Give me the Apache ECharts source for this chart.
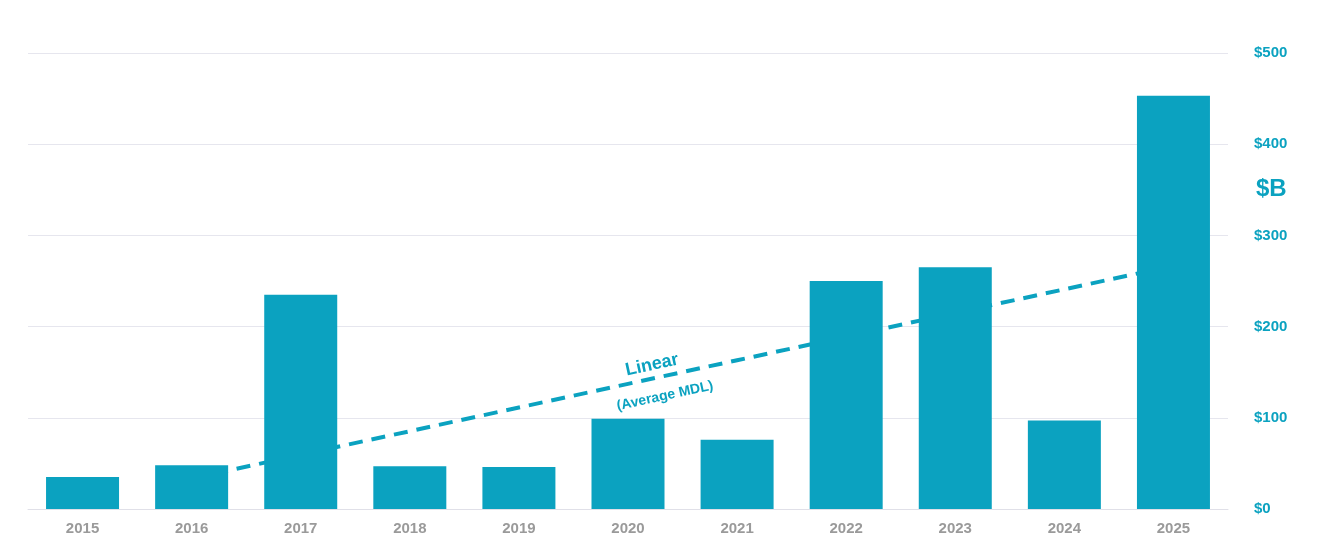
<!DOCTYPE html><html><head><meta charset="utf-8">
<script src="https://cdn.jsdelivr.net/npm/echarts@6/dist/echarts.min.js"></script>
<style>html,body{margin:0;background:#fff}#c{width:1319px;height:550px}</style></head><body><div id="c"></div>
<script>
const years=['2015','2016','2017','2018','2019','2020','2021','2022','2023','2024','2025'];
const values=[35,48,235,47,46,99,76,250,265,97,453];
const trend=[null,33.5,59.4,85.3,111.3,137.2,163.1,189.0,215.0,240.9,266.8];
const yTicks=[0,100,200,300,400,500];
const teal='#0ba2c0';
const ch=echarts.init(document.getElementById('c'));
ch.setOption({
 animation:false,
 grid:{left:28,right:91,top:53,bottom:41},
 xAxis:{type:'category',data:years,axisTick:{show:false},axisLine:{lineStyle:{color:'#e0e0e8'}},
  axisLabel:{color:'#9a9a9a',fontWeight:'bold',fontSize:15,fontFamily:'Arial',margin:12}},
 yAxis:{type:'value',position:'right',min:0,max:500,interval:100,
  splitLine:{lineStyle:{color:'#e6e6ee'}},
  axisLabel:{color:teal,fontWeight:'bold',fontSize:15,fontFamily:'Arial',margin:26,formatter:v=>'$'+v}},
 series:[
  {type:'line',data:trend,z:1,symbol:'none',lineStyle:{color:teal,width:4,type:[14,9]}},
  {type:'bar',data:values,z:2,barWidth:73,itemStyle:{color:teal}}
 ],
 graphic:[
  {type:'text',left:1256,top:177,style:{text:'$B',fill:teal,font:'bold 24px Arial'}},
  {type:'text',x:652,y:365,rotation:12.2*Math.PI/180,style:{text:'Linear',fill:teal,font:'bold 18px Arial',align:'center',verticalAlign:'middle'}},
  {type:'text',x:665,y:396,rotation:12.2*Math.PI/180,style:{text:'(Average MDL)',fill:teal,font:'bold 14px Arial',align:'center',verticalAlign:'middle'}}
 ]
});
</script></body></html>
